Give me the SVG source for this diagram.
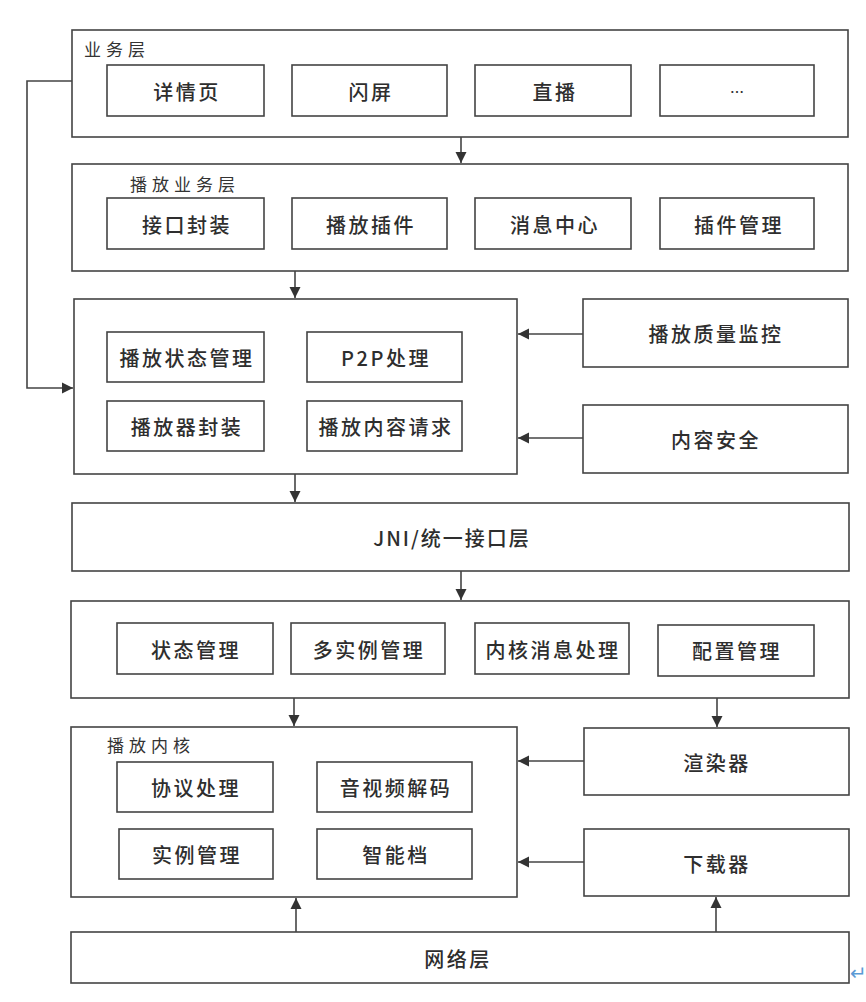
<svg xmlns="http://www.w3.org/2000/svg" width="866" height="1002" viewBox="0 0 866 1002">
<style>
.box{fill:#fff;stroke:#444;stroke-width:1.6}
.t{font-family:"Noto Sans CJK SC","Liberation Sans",sans-serif;font-size:20px;font-weight:500;fill:#2e2e2e;letter-spacing:2.5px;text-anchor:middle;dominant-baseline:central}
.lbl{font-family:"Noto Sans CJK SC","Liberation Sans",sans-serif;font-size:17px;fill:#333;letter-spacing:5px;dominant-baseline:central}
.c{fill:none;stroke:#444;stroke-width:1.6}
</style>
<defs>
<marker id="ah" markerUnits="userSpaceOnUse" markerWidth="12" markerHeight="12" refX="11" refY="6" orient="auto">
<path d="M0,0.5 L11,6 L0,11.5 z" fill="#333"/>
</marker>
</defs>
<rect width="866" height="1002" fill="#fff"/>

<g id="biz-layer">
<rect class="box" x="72" y="30" width="776" height="107"/>
<text class="lbl" x="84" y="48">业务层</text>
</g>
<g id="n-xqy"><rect class="box" x="107" y="65" width="157" height="51"/><text class="t" x="187" y="91">详情页</text></g>
<g id="n-sp"><rect class="box" x="292" y="65" width="155" height="51"/><text class="t" x="371" y="91">闪屏</text></g>
<g id="n-zb"><rect class="box" x="475" y="65" width="156" height="51"/><text class="t" x="555" y="91">直播</text></g>
<g id="n-more"><rect class="box" x="660" y="65" width="154" height="51"/><text class="t" x="737" y="91" style="font-size:14px;letter-spacing:0">…</text></g>

<g id="play-biz-layer">
<rect class="box" x="72" y="164" width="776" height="107"/>
<text class="lbl" x="130" y="183">播放业务层</text>
</g>
<g id="n-jkfz"><rect class="box" x="107" y="198" width="157" height="51"/><text class="t" x="187" y="224">接口封装</text></g>
<g id="n-bfcj"><rect class="box" x="292" y="198" width="155" height="51"/><text class="t" x="371" y="224">播放插件</text></g>
<g id="n-xxzx"><rect class="box" x="475" y="198" width="156" height="51"/><text class="t" x="555" y="224">消息中心</text></g>
<g id="n-cjgl"><rect class="box" x="660" y="198" width="154" height="51"/><text class="t" x="739" y="224">插件管理</text></g>

<g id="player-layer"><rect class="box" x="74" y="299" width="443" height="175"/></g>
<g id="n-bfztgl"><rect class="box" x="107" y="332" width="157" height="50"/><text class="t" x="187" y="357">播放状态管理</text></g>
<g id="n-p2p"><rect class="box" x="307" y="332" width="155" height="50"/><text class="t" x="386" y="357">P2P处理</text></g>
<g id="n-bfqfz"><rect class="box" x="107" y="401" width="157" height="50"/><text class="t" x="187" y="426">播放器封装</text></g>
<g id="n-bfnrqq"><rect class="box" x="307" y="401" width="155" height="50"/><text class="t" x="386" y="426">播放内容请求</text></g>
<g id="n-bfzljk"><rect class="box" x="583" y="299" width="265" height="68"/><text class="t" x="716" y="333">播放质量监控</text></g>
<g id="n-nraq"><rect class="box" x="583" y="405" width="265" height="68"/><text class="t" x="716" y="439">内容安全</text></g>

<g id="jni-layer"><rect class="box" x="72" y="503" width="777" height="68"/><text class="t" x="452" y="537" style="letter-spacing:2px">JNI/统一接口层</text></g>

<g id="kernel-mgr-layer"><rect class="box" x="71" y="601" width="778" height="97"/></g>
<g id="n-ztgl"><rect class="box" x="117" y="623" width="156" height="51"/><text class="t" x="196" y="649">状态管理</text></g>
<g id="n-dslgl"><rect class="box" x="291" y="623" width="154" height="51"/><text class="t" x="369" y="649">多实例管理</text></g>
<g id="n-nhxxcl"><rect class="box" x="475" y="623" width="154" height="51"/><text class="t" x="553" y="649">内核消息处理</text></g>
<g id="n-pzgl"><rect class="box" x="658" y="625" width="156" height="51"/><text class="t" x="737" y="650">配置管理</text></g>

<g id="kernel-layer">
<rect class="box" x="71" y="727" width="446" height="170"/>
<text class="lbl" x="107" y="744">播放内核</text>
</g>
<g id="n-xycl"><rect class="box" x="117" y="762" width="156" height="50"/><text class="t" x="196" y="787">协议处理</text></g>
<g id="n-yspjm"><rect class="box" x="317" y="762" width="155" height="50"/><text class="t" x="396" y="787">音视频解码</text></g>
<g id="n-slgl"><rect class="box" x="119" y="829" width="154" height="50"/><text class="t" x="197" y="854">实例管理</text></g>
<g id="n-znd"><rect class="box" x="317" y="829" width="155" height="50"/><text class="t" x="396" y="854">智能档</text></g>
<g id="n-xrq"><rect class="box" x="584" y="728" width="265" height="67"/><text class="t" x="717" y="762">渲染器</text></g>
<g id="n-xzq"><rect class="box" x="584" y="829" width="265" height="67"/><text class="t" x="717" y="863">下载器</text></g>

<g id="net-layer"><rect class="box" x="71" y="932" width="778" height="51"/><text class="t" x="458" y="958">网络层</text></g>

<g id="connectors">
<line class="c" x1="461" y1="137" x2="461" y2="163" marker-end="url(#ah)"/>
<line class="c" x1="295" y1="271" x2="295" y2="298" marker-end="url(#ah)"/>
<path class="c" d="M72,81 H27 V388 H73" marker-end="url(#ah)"/>
<line class="c" x1="583" y1="334" x2="518" y2="334" marker-end="url(#ah)"/>
<line class="c" x1="583" y1="438" x2="518" y2="438" marker-end="url(#ah)"/>
<line class="c" x1="295" y1="474" x2="295" y2="502" marker-end="url(#ah)"/>
<line class="c" x1="461" y1="571" x2="461" y2="600" marker-end="url(#ah)"/>
<line class="c" x1="294" y1="698" x2="294" y2="726" marker-end="url(#ah)"/>
<line class="c" x1="717" y1="698" x2="717" y2="727" marker-end="url(#ah)"/>
<line class="c" x1="584" y1="761" x2="518" y2="761" marker-end="url(#ah)"/>
<line class="c" x1="584" y1="862" x2="518" y2="862" marker-end="url(#ah)"/>
<line class="c" x1="296" y1="932" x2="296" y2="898" marker-end="url(#ah)"/>
<line class="c" x1="716" y1="932" x2="716" y2="897" marker-end="url(#ah)"/>
</g>

<text x="850" y="980" style="font-family:'DejaVu Sans',sans-serif;font-size:20px;fill:#5b9bd5">↵</text>
</svg>
